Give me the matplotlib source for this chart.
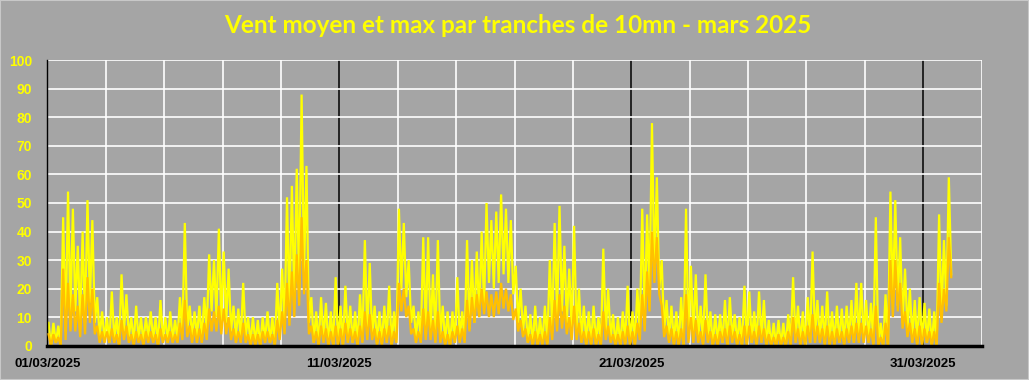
import numpy as np
import pandas as pd
import matplotlib
matplotlib.use('Agg')
import matplotlib.pyplot as plt
import matplotlib.dates as mdates
from matplotlib.patches import Rectangle
from datetime import datetime, timedelta

# Valeurs, par tranches de 4 h (6 par jour, du 01/03 au 31/03)
# haut / bas = valeurs extremes atteintes dans chaque tranche
rafale_haut = [
    8, 8, 7, 45, 54, 48,
    35, 40, 51, 44, 17, 12,
    10, 19, 10, 25, 18, 10,
    14, 10, 10, 12, 10, 16,
    10, 12, 9, 17, 43, 14,
    12, 14, 17, 32, 30, 41,
    33, 27, 14, 13, 22, 10,
    10, 9, 10, 12, 10, 22,
    27, 52, 56, 62, 88, 63,
    17, 12, 17, 15, 12, 24,
    14, 21, 14, 12, 18, 37,
    29, 14, 12, 14, 21, 12,
    48, 43, 30, 14, 12, 38,
    38, 25, 37, 14, 12, 12,
    24, 12, 37, 30, 33, 40,
    50, 44, 47, 53, 48, 44,
    28, 20, 14, 11, 14, 10,
    14, 30, 43, 49, 35, 27,
    42, 20, 14, 12, 14, 10,
    34, 20, 11, 10, 12, 21,
    12, 20, 48, 46, 78, 59,
    30, 16, 14, 12, 17, 48,
    28, 25, 14, 25, 12, 11,
    11, 16, 17, 11, 10, 21,
    19, 12, 19, 16, 9, 8,
    9, 8, 11, 24, 14, 12,
    17, 33, 16, 14, 19, 12,
    14, 13, 14, 16, 22, 22,
    16, 15, 45, 8, 18, 54,
    51, 38, 27, 20, 16, 17,
    15, 13, 12, 46, 37, 59,
]
rafale_bas = [
    0, 1, 0, 5, 10, 12,
    8, 8, 15, 8, 3, 2,
    1, 2, 0, 5, 3, 1,
    2, 1, 3, 2, 0, 2,
    1, 2, 2, 4, 5, 3,
    3, 2, 5, 12, 10, 8,
    8, 5, 3, 2, 3, 1,
    1, 0, 2, 1, 0, 4,
    6, 12, 15, 20, 25, 8,
    1, 0, 2, 0, 0, 0,
    0, 2, 1, 0, 2, 4,
    3, 1, 1, 2, 0, 2,
    20, 17, 8, 3, 2, 5,
    4, 3, 3, 1, 0, 1,
    2, 2, 6, 8, 10, 14,
    22, 20, 22, 25, 22, 18,
    8, 5, 1, 0, 0, 1,
    1, 5, 10, 12, 8, 5,
    4, 2, 1, 1, 1, 0,
    4, 2, 0, 0, 1, 1,
    1, 4, 8, 18, 25, 20,
    5, 2, 1, 0, 0, 3,
    3, 2, 1, 2, 0, 1,
    1, 0, 2, 1, 0, 1,
    1, 1, 2, 0, 0, 0,
    0, 0, 1, 2, 1, 0,
    1, 3, 2, 1, 1, 1,
    1, 1, 2, 1, 2, 3,
    2, 1, 0, 0, 0, 15,
    14, 8, 5, 2, 1, 1,
    1, 0, 0, 10, 14, 25,
]
moyen_haut = [
    4, 4, 3, 27, 22, 18,
    14, 18, 24, 20, 7, 5,
    5, 6, 4, 9, 7, 4,
    5, 4, 5, 5, 4, 6,
    4, 5, 4, 8, 16, 7,
    6, 6, 8, 13, 12, 14,
    13, 10, 6, 5, 8, 4,
    4, 4, 5, 5, 4, 9,
    12, 22, 26, 32, 45, 30,
    7, 5, 7, 6, 5, 7,
    6, 8, 6, 5, 7, 12,
    11, 6, 5, 6, 7, 5,
    22, 20, 14, 6, 5, 13,
    12, 9, 12, 5, 4, 5,
    7, 6, 16, 17, 18, 20,
    19, 18, 19, 22, 20, 18,
    13, 9, 6, 4, 5, 4,
    5, 10, 16, 18, 14, 10,
    14, 8, 5, 5, 6, 4,
    12, 7, 4, 4, 5, 7,
    5, 8, 18, 26, 40, 38,
    14, 7, 6, 5, 6, 18,
    10, 9, 5, 9, 5, 4,
    5, 6, 7, 5, 4, 7,
    7, 5, 7, 6, 4, 3,
    4, 3, 5, 10, 6, 5,
    7, 11, 7, 6, 7, 5,
    6, 5, 6, 7, 8, 8,
    7, 6, 14, 3, 8, 30,
    30, 22, 12, 8, 6, 7,
    6, 5, 5, 22, 20, 38,
]
moyen_bas = [
    0, 1, 0, 2, 5, 5,
    3, 4, 8, 4, 1, 1,
    1, 1, 0, 2, 1, 0,
    1, 0, 1, 1, 0, 1,
    1, 1, 1, 2, 3, 1,
    1, 1, 2, 5, 5, 4,
    4, 2, 1, 1, 1, 0,
    0, 0, 1, 1, 0, 2,
    4, 7, 10, 14, 18, 4,
    1, 0, 1, 0, 0, 0,
    0, 1, 1, 0, 1, 2,
    2, 0, 0, 1, 0, 1,
    12, 10, 4, 1, 1, 2,
    2, 1, 1, 0, 0, 1,
    1, 1, 5, 8, 10, 11,
    10, 10, 11, 13, 12, 9,
    5, 3, 1, 0, 0, 0,
    0, 2, 5, 6, 4, 2,
    2, 1, 0, 0, 0, 0,
    2, 1, 0, 0, 0, 0,
    0, 2, 5, 12, 22, 18,
    3, 1, 0, 0, 0, 1,
    1, 1, 0, 1, 0, 0,
    1, 0, 1, 0, 0, 0,
    1, 0, 1, 0, 0, 0,
    0, 0, 0, 1, 0, 0,
    1, 1, 1, 0, 0, 0,
    1, 0, 1, 1, 1, 1,
    1, 0, 0, 0, 0, 10,
    12, 6, 3, 1, 0, 0,
    1, 0, 0, 8, 12, 24,
]

titre = 'Vent moyen et max par tranches de 10mn - mars 2025'
fond = '#A5A5A5'
jaune = '#FFFF00'
orange = '#FFC000'

debut = datetime(2025, 3, 1)
tranches = pd.date_range(debut, periods=len(rafale_haut), freq='4h')


def zigzag(haut, bas):
    # alterne valeur haute / valeur basse dans chaque tranche
    t = np.empty(2 * len(haut), dtype='datetime64[ns]')
    t[0::2] = tranches + pd.Timedelta(hours=1)
    t[1::2] = tranches + pd.Timedelta(hours=3)
    v = np.empty(2 * len(haut))
    v[0::2] = haut
    v[1::2] = bas
    return t, v


fig = plt.figure(figsize=(10.29, 3.80), dpi=100, facecolor=fond)
fig.patches.append(Rectangle((0, 0), 1, 1, transform=fig.transFigure,
                             fill=False, edgecolor='#C8C8C8', lw=1.5))
ax = fig.add_axes([0.046, 0.0903, 0.908, 0.751])
ax.set_facecolor(fond)

# grille
ax.set_ylim(0, 100)
ax.set_yticks(range(0, 101, 10))
ax.yaxis.grid(True, color='white', lw=1.2, zorder=0)
for k in range(0, 33, 2):
    if k % 10 == 0 and k > 0:
        ax.axvline(debut + timedelta(days=k), color='black', lw=1.1, zorder=1)
    else:
        ax.axvline(debut + timedelta(days=k), color='white', lw=1.2, zorder=0)

t, v = zigzag(rafale_haut, rafale_bas)
ax.plot(t, v, color=jaune, lw=1.6, zorder=2, solid_joinstyle='miter')
t, v = zigzag(moyen_haut, moyen_bas)
ax.plot(t, v, color=orange, lw=1.6, zorder=3, solid_joinstyle='miter')

ax.set_xlim(debut, debut + timedelta(days=32))
ax.set_xticks([debut + timedelta(days=d) for d in (0, 10, 20, 30)])
ax.xaxis.set_major_formatter(mdates.DateFormatter('%d/%m/%Y'))

for s in ['top', 'right']:
    ax.spines[s].set_visible(False)
ax.spines['left'].set_color('black')
ax.spines['left'].set_linewidth(1)
ax.spines['bottom'].set_color('black')
ax.spines['bottom'].set_linewidth(2.5)
ax.spines['bottom'].set_zorder(5)

ax.tick_params(axis='both', length=0)
ax.tick_params(axis='y', pad=11, labelcolor=jaune)
ax.tick_params(axis='x', pad=9, labelcolor='black')
for lab in ax.get_yticklabels():
    lab.set_fontfamily('Liberation Sans')
    lab.set_fontweight('bold')
    lab.set_fontsize(10)
for lab in ax.get_xticklabels():
    lab.set_fontfamily('Liberation Sans')
    lab.set_fontweight('bold')
    lab.set_fontsize(9.5)

fig.text(0.503, 0.912, titre, ha='center', va='baseline', color=jaune,
         fontsize=17.5, fontweight='bold', family='Lato')

fig.savefig('out.png', dpi=100, facecolor=fig.get_facecolor())
